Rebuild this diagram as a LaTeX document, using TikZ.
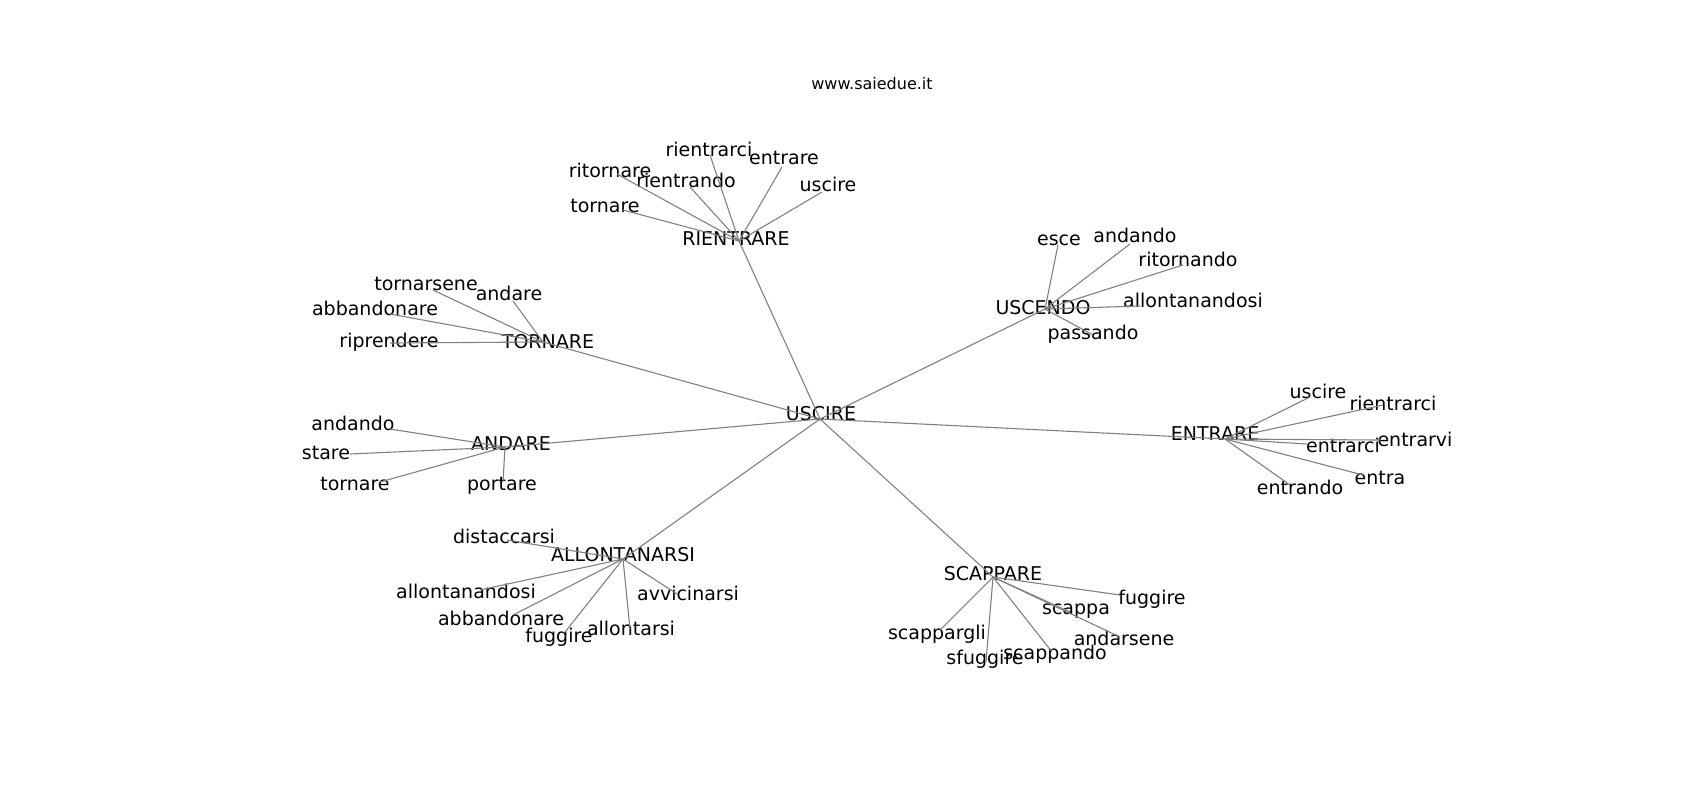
\documentclass[tikz,border=0pt]{standalone}
\usepackage{fontspec}
\setmainfont{DejaVu Sans}
\newcommand\gnode[4]{\coordinate (#1) at (#2); \node[lbl] (#1-t) at (#3) {#4};}
\begin{document}
\begin{tikzpicture}[x=0.5pt,y=-0.5pt,
  lbl/.style={inner sep=0pt, yshift=-1.2pt, text height=0.72em, text depth=0.2em, font=\fontsize{9.5}{11}\selectfont},
  edge/.style={draw=black!50, line width=0.55pt}]
\useasboundingbox (0,0) rectangle (1700,800);
\coordinate (u) at (820,419);
\coordinate (r) at (739,241);
\coordinate (t) at (543,342);
\coordinate (a) at (505,447);
\coordinate (al) at (623,559);
\coordinate (s) at (993,577);
\coordinate (e) at (1225,439);
\coordinate (uc) at (1045,309);
\node[inner sep=0pt, yshift=-0.6pt, font=\fontsize{8}{10}\selectfont] (title) at (872,82) {www.saiedue.it};
% hubs
\node[lbl] (u-t) at (821,413) {USCIRE};
\node[lbl] (r-t) at (736,238) {RIENTRARE};
\node[lbl] (t-t) at (548,341) {TORNARE};
\node[lbl] (a-t) at (511,443) {ANDARE};
\node[lbl] (al-t) at (623,554) {ALLONTANARSI};
\node[lbl] (s-t) at (993,573) {SCAPPARE};
\node[lbl] (e-t) at (1215,433) {ENTRARE};
\node[lbl] (uc-t) at (1043,307) {USCENDO};
% RIENTRARE leaves
\gnode{r1}{710,155}{709,149}{rientrarci}
\gnode{r2}{782,167}{784,157}{entrare}
\gnode{r3}{617,174}{610,170}{ritornare}
\gnode{r4}{690,187}{686,180}{rientrando}
\gnode{r5}{822,192}{828,184}{uscire}
\gnode{r6}{623,210}{605,205}{tornare}
% TORNARE leaves
\gnode{t1}{433,290}{426,283}{tornarsene}
\gnode{t2}{513,301}{509,293}{andare}
\gnode{t3}{390,314}{375,308}{abbandonare}
\gnode{t4}{390,343}{389,340}{riprendere}
% ANDARE leaves
\gnode{a1}{390,429}{353,423}{andando}
\gnode{a2}{350,454}{326,452}{stare}
\gnode{a3}{380,482}{355,483}{tornare}
\gnode{a4}{503,482}{502,483}{portare}
% ALLONTANARSI leaves
\gnode{al1}{507,540}{504,536}{distaccarsi}
\gnode{al2}{480,590}{466,591}{allontanandosi}
\gnode{al3}{513,615}{501,618}{abbandonare}
\gnode{al4}{565,632}{559,635}{fuggire}
\gnode{al5}{630,629}{631,628}{allontarsi}
\gnode{al6}{677,594}{688,593}{avvicinarsi}
% SCAPPARE leaves
\gnode{s1}{1120,595}{1152,597}{fuggire}
\gnode{s2}{1070,612}{1076,607}{scappa}
\gnode{s3}{1120,637}{1124,638}{andarsene}
\gnode{s4}{1052,652}{1055,652}{scappando}
\gnode{s5}{986,662}{985,657}{sfuggire}
\gnode{s6}{940,630}{937,632}{scappargli}
% ENTRARE leaves
\gnode{e1}{1310,397}{1318,391}{uscire}
\gnode{e2}{1383,405}{1393,403}{rientrarci}
\gnode{e3}{1380,440}{1415,439}{entrarvi}
\gnode{e4}{1307,444}{1343,445}{entrarci}
\gnode{e5}{1363,475}{1380,477}{entra}
\gnode{e6}{1290,485}{1300,487}{entrando}
% USCENDO leaves
\gnode{uc1}{1058,245}{1059,238}{esce}
\gnode{uc2}{1130,244}{1135,235}{andando}
\gnode{uc3}{1183,265}{1188,259}{ritornando}
\gnode{uc4}{1140,306}{1193,300}{allontanandosi}
\gnode{uc5}{1093,335}{1093,332}{passando}
% edges
\foreach \h in {r,t,a,al,s,e,uc} \draw[edge] (u) -- (\h);
\foreach \l in {r1,r2,r3,r4,r5,r6} \draw[edge] (r) -- (\l);
\foreach \l in {t1,t2,t3,t4} \draw[edge] (t) -- (\l);
\foreach \l in {a1,a2,a3,a4} \draw[edge] (a) -- (\l);
\foreach \l in {al1,al2,al3,al4,al5,al6} \draw[edge] (al) -- (\l);
\foreach \l in {s1,s2,s3,s4,s5,s6} \draw[edge] (s) -- (\l);
\foreach \l in {e1,e2,e3,e4,e5,e6} \draw[edge] (e) -- (\l);
\foreach \l in {uc1,uc2,uc3,uc4,uc5} \draw[edge] (uc) -- (\l);
\end{tikzpicture}
\end{document}
